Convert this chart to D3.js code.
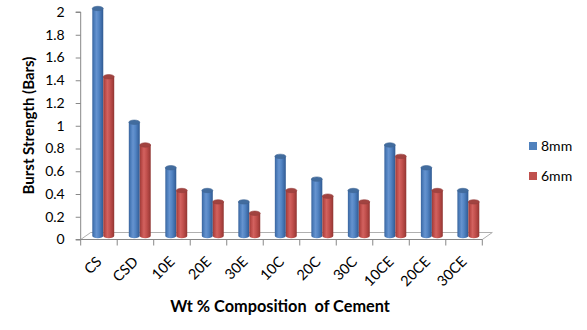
<!DOCTYPE html>
<html><head><meta charset="utf-8">
<script src="https://cdn.jsdelivr.net/npm/d3@7"></script>
<style>
body{margin:0;background:#fff;}
svg{display:block;}
text{font-family:Lato,"Open Sans",sans-serif;}
</style></head>
<body>
<svg id="chart" width="587" height="330"></svg>
<script>
const categories = ["CS","CSD","10E","20E","30E","10C","20C","30C","10CE","20CE","30CE"];
const seriesNames = ["8mm","6mm"];
const values8mm = [2.0,1.0,0.6,0.4,0.3,0.7,0.5,0.4,0.8,0.6,0.4];
const values6mm = [1.4,0.8,0.4,0.3,0.2,0.4,0.35,0.3,0.7,0.4,0.3];
const yTicks = [0,0.2,0.4,0.6,0.8,1,1.2,1.4,1.6,1.8,2];
const seriesColors = ["#4f81bd","#c0504d"];

(function(){
const svg = d3.select("#chart");
const pLeft = 80.7, pRight = 482.3, pTop = 12, pBottom = 239.5;
const depth = {dx:10, dy:-7};

const x0 = d3.scaleBand().domain(categories).range([pLeft,pRight]).padding(0);
const y = d3.scaleLinear().domain([0,2]).range([pBottom, pTop]);
const bw = x0.bandwidth();
const barW = bw*0.30;
const x1 = d3.scaleBand().domain(seriesNames).range([0, 2*barW]).padding(0);
const groupOffset = (bw - 2*barW)/2 + depth.dx*0.43;

// gradients
const defs = svg.append("defs");
const grads = [
  {id:"g0", stops:["#3a659e","#4f80be","#6693cf","#5385c4","#3d6aa6","#2f5a91"]},
  {id:"g1", stops:["#9c3b38","#bf4e4b","#d2625f","#c4524f","#a8403d","#8e3532"]}
];
grads.forEach(g=>{
  const lg = defs.append("linearGradient").attr("id",g.id).attr("x1","0").attr("x2","1").attr("y1","0").attr("y2","0");
  const offs=[0,0.2,0.38,0.6,0.85,1];
  g.stops.forEach((c,i)=>lg.append("stop").attr("offset",offs[i]).attr("stop-color",c));
});

// floor
const floorPts = [[pLeft,pBottom],[pRight,pBottom],[pRight+depth.dx,pBottom+depth.dy],[pLeft+depth.dx,pBottom+depth.dy]];
svg.append("polygon").attr("points",floorPts.map(p=>p.join(",")).join(" "))
  .attr("fill","#fff").attr("stroke","#b0b0b0").attr("stroke-width",1);

// y axis
const yAxis = d3.axisLeft(y).tickValues(yTicks).tickSize(5).tickPadding(11)
  .tickFormat(d=>d3.format("~g")(d));
const yg = svg.append("g").attr("transform",`translate(${pLeft},0)`).call(yAxis);
yg.select(".domain").attr("stroke","#888").attr("d",`M-5,${pTop}H0V${pBottom}H-5`);
yg.selectAll(".tick line").attr("stroke","#888");
yg.selectAll(".tick text").attr("font-size",14).attr("fill","#000").attr("font-family","Lato");

// x axis
const xg = svg.append("g").attr("transform",`translate(0,${pBottom})`);
xg.append("line").attr("x1",pLeft).attr("x2",pRight).attr("y1",0).attr("y2",0).attr("stroke","#888");
const bounds = categories.map(c=>x0(c)).concat([pRight]);
xg.selectAll(".xt").data(bounds).enter().append("line")
  .attr("x1",d=>d).attr("x2",d=>d).attr("y1",0).attr("y2",6).attr("stroke","#888");
xg.selectAll(".xl").data(categories).enter().append("text")
  .attr("transform",d=>`translate(${x0(d)+bw/2},${19.5}) rotate(-45)`)
  .attr("text-anchor","end").attr("dy","0.35em")
  .attr("font-size",14.5).attr("fill","#000").text(d=>d);

// bars (cylinders)
const ry = 2.2;
const data = [values8mm, values6mm];
const baseY = y(0) + depth.dy/2;
categories.forEach((c,i)=>{
  seriesNames.forEach((s,j)=>{
    const v = data[j][i];
    const xl = x0(c) + groupOffset + x1(s);
    const xr = xl + x1.bandwidth();
    const rx = (xr-xl)/2;
    const yt = y(v) + depth.dy/2;
    const g = svg.append("g");
    g.append("path")
      .attr("d",`M${xl},${yt}L${xl},${baseY}A${rx},${ry} 0 0 0 ${xr},${baseY}L${xr},${yt}Z`)
      .attr("fill",`url(#g${j})`);
    g.append("ellipse").attr("cx",xl+rx).attr("cy",yt).attr("rx",rx).attr("ry",ry)
      .attr("fill",d3.color(seriesColors[j]).darker(0.5)).attr("stroke",d3.color(seriesColors[j]).darker(0.7)).attr("stroke-width",0.6);
  });
});

// axis titles
svg.append("text").attr("transform",`translate(34,${125.5}) rotate(-90)`)
  .attr("text-anchor","middle").attr("font-size",15).attr("font-weight","bold").attr("fill","#000")
  .text("Burst Strength (Bars)");
svg.append("text").attr("x",280).attr("y",311.5).attr("text-anchor","middle")
  .attr("font-size",16.3).attr("font-weight","bold").attr("fill","#000")
  .style("white-space","pre").text("Wt % Composition  of Cement");

// legend
const lg = svg.append("g");
seriesNames.forEach((s,j)=>{
  lg.append("rect").attr("x",529).attr("y",142+30*j).attr("width",8).attr("height",8).attr("fill",seriesColors[j]);
  lg.append("text").attr("x",541).attr("y",151+30*j).attr("font-size",14).attr("fill","#000").text(s);
});
})();
</script>
</body></html>
